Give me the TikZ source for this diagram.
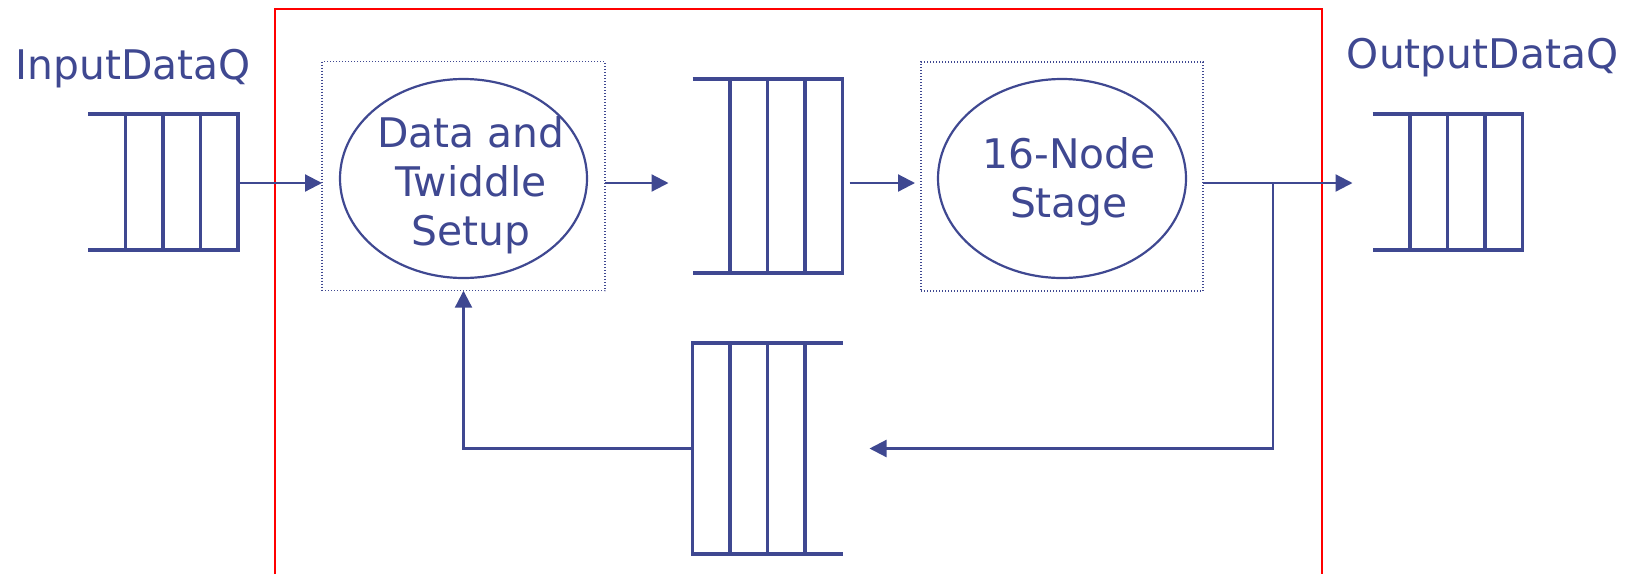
\documentclass[tikz,border=0pt]{standalone}
\usepackage{fontspec}
\setmainfont{DejaVu Sans}
\usetikzlibrary{arrows.meta,calc,shapes.geometric}
\definecolor{navy}{RGB}{63,72,145}
\definecolor{framered}{RGB}{255,0,0}
\newcommand\queueopenleft[1]{%
  \draw[qline] (#1.north west) -- (#1.north east) -- (#1.south east) -- (#1.south west);
  \foreach \f in {0.25,0.5,0.75}{\draw[qline] ($(#1.north west)!\f!(#1.north east)$) -- ($(#1.south west)!\f!(#1.south east)$);}
}
\newcommand\queueopenright[1]{%
  \draw[qline] (#1.north east) -- (#1.north west) -- (#1.south west) -- (#1.south east);
  \foreach \f in {0.25,0.5,0.75}{\draw[qline] ($(#1.north west)!\f!(#1.north east)$) -- ($(#1.south west)!\f!(#1.south east)$);}
}
\begin{document}
\begin{tikzpicture}[x=0.5pt,y=-0.5pt,
  qbox/.style={inner sep=0pt,outer sep=0pt,minimum width=75pt},
  qline/.style={navy,line width=1.6pt},
  stagebox/.style={draw=navy,line width=0.7pt,dash pattern=on 0.5pt off 1pt,inner sep=0pt,outer sep=0pt},
  oval/.style={ellipse,draw=navy,line width=1.1pt,inner sep=0pt,outer sep=0pt},
  lbl/.style={text=navy,font=\fontsize{20.4pt}{24.5pt}\selectfont,align=center,inner sep=0pt},
  conn/.style={navy,line width=1.1pt},
  arr/.style={conn,-{Triangle[length=8.5pt,width=8.5pt]}},
]
\useasboundingbox (0,0) rectangle (1627,574);
% frame
\draw[framered,line width=1pt] (275,574) -- (275,9) -- (1322,9) -- (1322,574);
% queues
\node[qbox,minimum height=68pt] (inq) at (163,182) {};
\node[qbox,minimum height=97pt] (midq) at (767.5,176) {};
\node[qbox,minimum height=68pt] (outq) at (1447.5,182) {};
\node[qbox,minimum height=105.5pt] (fbq) at (767.5,448.5) {};
\queueopenleft{inq}
\queueopenleft{midq}
\queueopenleft{outq}
\queueopenright{fbq}
% stage boxes
\node[stagebox,minimum width=141.5pt,minimum height=114.5pt] (sb1) at (463.5,176.2) {};
\node[stagebox,minimum width=141pt,minimum height=114.5pt] (sb2) at (1062,176.5) {};
\node[oval,minimum width=123.5pt,minimum height=99.5pt] (e1) at (463.5,178.5) {};
\node[oval,minimum width=124pt,minimum height=99.5pt] (e2) at (1062,178.5) {};
% labels (base anchor = baseline of last line)
\node[lbl,anchor=base] (t1) at (471,245) {Data and\\Twiddle\\Setup};
\node[lbl,anchor=base] (t2) at (1069,217) {16-Node\\Stage};
\node[lbl,anchor=base] (inlbl) at (133,79) {InputDataQ};
\node[lbl,anchor=base] (outlbl) at (1482.5,68.3) {OutputDataQ};
% connectors
\coordinate (row) at (0,183);
\coordinate (br) at (1273,183);
\draw[arr] (inq.east |- row) -- (sb1.west |- row);
\draw[arr] (sb1.east |- row) -- ([xshift=-12pt]midq.west |- row);
\draw[arr] ([xshift=3.5pt]midq.east |- row) -- ([xshift=-3pt]sb2.west |- row);
\draw[arr] (sb2.east |- row) -- ([xshift=-10pt]outq.west |- row);
\draw[arr] (br) |- ([xshift=13.5pt]fbq.east);
\draw[arr] (fbq.west) -| (sb1.south);
\end{tikzpicture}
\end{document}
